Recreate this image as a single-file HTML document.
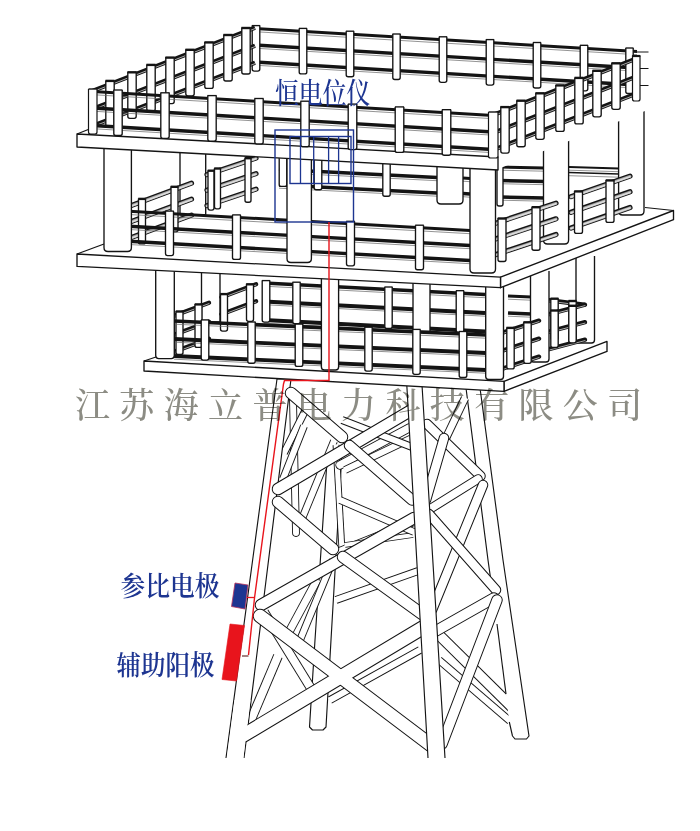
<!DOCTYPE html>
<html lang="zh"><head><meta charset="utf-8"><title>恒电位仪</title>
<style>html,body{margin:0;padding:0;background:#fff}svg{display:block}
text{font-family:"Liberation Serif","Noto Serif CJK SC",serif}</style></head>
<body><svg width="700" height="831" viewBox="0 0 700 831">
<rect width="700" height="831" fill="#fff"/>
<path d="M327.6 452L315 640L309.5 727L312.5 730L323 730L326 727L331 640L342 452" fill="#fff" stroke="#141414" stroke-width="1.15" stroke-linejoin="round"/>
<path d="M293 400L296 533" stroke="#141414" stroke-width="7.8" stroke-linecap="round" fill="none"/>
<path d="M293 400L296 533" stroke="#fff" stroke-width="6" stroke-linecap="round" fill="none"/>
<path d="M306 409L284 453" stroke="#141414" stroke-width="7.8" stroke-linecap="butt" fill="none"/>
<path d="M306.3 408.5L283.7 453.5" stroke="#fff" stroke-width="6" stroke-linecap="butt" fill="none"/>
<path d="M304 426L283 479" stroke="#141414" stroke-width="7.8" stroke-linecap="butt" fill="none"/>
<path d="M304.2 425.4L282.8 479.6" stroke="#fff" stroke-width="6" stroke-linecap="butt" fill="none"/>
<path d="M334 441L299 526" stroke="#141414" stroke-width="7.8" stroke-linecap="butt" fill="none"/>
<path d="M334.2 440.4L298.8 526.6" stroke="#fff" stroke-width="6" stroke-linecap="butt" fill="none"/>
<path d="M336 445L342 550" stroke="#141414" stroke-width="6.8" stroke-linecap="butt" fill="none"/>
<path d="M336 444.4L342 550.6" stroke="#fff" stroke-width="5" stroke-linecap="butt" fill="none"/>
<path d="M340 465L409 428" stroke="#141414" stroke-width="9.3" stroke-linecap="round" fill="none"/>
<path d="M340 465L409 428" stroke="#fff" stroke-width="7.5" stroke-linecap="round" fill="none"/>
<path d="M317 580L282 645" stroke="#141414" stroke-width="8.8" stroke-linecap="butt" fill="none"/>
<path d="M317.3 579.5L281.7 645.5" stroke="#fff" stroke-width="7" stroke-linecap="butt" fill="none"/>
<path d="M264 612L312 690" stroke="#141414" stroke-width="9.8" stroke-linecap="butt" fill="none"/>
<path d="M263.7 611.5L312.3 690.5" stroke="#fff" stroke-width="8" stroke-linecap="butt" fill="none"/>
<path d="M278 656L250 722" stroke="#141414" stroke-width="9.8" stroke-linecap="butt" fill="none"/>
<path d="M278.2 655.4L249.8 722.6" stroke="#fff" stroke-width="8" stroke-linecap="butt" fill="none"/>
<path d="M333 560L300 640" stroke="#141414" stroke-width="7.8" stroke-linecap="butt" fill="none"/>
<path d="M333.2 559.4L299.8 640.6" stroke="#fff" stroke-width="6" stroke-linecap="butt" fill="none"/>
<path d="M338 552L413 522" stroke="#141414" stroke-width="8.8" stroke-linecap="butt" fill="none"/>
<path d="M337.4 552.2L413.6 521.8" stroke="#fff" stroke-width="7" stroke-linecap="butt" fill="none"/>
<path d="M345 545L413 535" stroke="#141414" stroke-width="5.8" stroke-linecap="butt" fill="none"/>
<path d="M344.4 545.1L413.6 534.9" stroke="#fff" stroke-width="4" stroke-linecap="butt" fill="none"/>
<path d="M330 700L420 650" stroke="#141414" stroke-width="7.8" stroke-linecap="butt" fill="none"/>
<path d="M329.5 700.3L420.5 649.7" stroke="#fff" stroke-width="6" stroke-linecap="butt" fill="none"/>
<path d="M345 470L412 438" stroke="#141414" stroke-width="7.8" stroke-linecap="butt" fill="none"/>
<path d="M344.5 470.3L412.5 437.7" stroke="#fff" stroke-width="6" stroke-linecap="butt" fill="none"/>
<path d="M342 420L412 447" stroke="#141414" stroke-width="7.8" stroke-linecap="butt" fill="none"/>
<path d="M341.4 419.8L412.6 447.2" stroke="#fff" stroke-width="6" stroke-linecap="butt" fill="none"/>
<path d="M340 500L414 532" stroke="#141414" stroke-width="7.8" stroke-linecap="butt" fill="none"/>
<path d="M339.4 499.8L414.6 532.2" stroke="#fff" stroke-width="6" stroke-linecap="butt" fill="none"/>
<path d="M336 600L418 571" stroke="#141414" stroke-width="7.8" stroke-linecap="butt" fill="none"/>
<path d="M335.4 600.2L418.6 570.8" stroke="#fff" stroke-width="6" stroke-linecap="butt" fill="none"/>
<path d="M439 660L510 721" stroke="#141414" stroke-width="8" stroke-linecap="butt" fill="none"/>
<path d="M438.5 659.6L510.5 721.4" stroke="#fff" stroke-width="6" stroke-linecap="butt" fill="none"/>
<path d="M434 630L518 713" stroke="#141414" stroke-width="11.5" stroke-linecap="butt" fill="none"/>
<path d="M433.6 629.6L518.4 713.4" stroke="#fff" stroke-width="9.5" stroke-linecap="butt" fill="none"/>
<path d="M466 388L480 388L503 560L529 736L526.5 739L515 739L512.5 736L509 720L506 694L488 560Z" fill="#fff" stroke="none" stroke-width="1" stroke-linejoin="round"/>
<path d="M466 388L488 560L492.5 592" fill="none" stroke="#141414" stroke-width="1.15" stroke-linejoin="round"/>
<path d="M497 624L506 694" fill="none" stroke="#141414" stroke-width="1.15" stroke-linejoin="round"/>
<path d="M480 388L503 560L529 736L526.5 739L515 739L512.5 736L509.3 722" fill="none" stroke="#141414" stroke-width="1.15" stroke-linejoin="round"/>
<path d="M465 398L446 438" stroke="#141414" stroke-width="8.5" stroke-linecap="butt" fill="none"/>
<path d="M465.3 397.5L445.7 438.5" stroke="#fff" stroke-width="6.5" stroke-linecap="butt" fill="none"/>
<path d="M427 424L480.5 476" stroke="#141414" stroke-width="10.5" stroke-linecap="round" fill="none"/>
<path d="M427 424L480.5 476" stroke="#fff" stroke-width="8.5" stroke-linecap="round" fill="none"/>
<path d="M444 438L426 500" stroke="#141414" stroke-width="10.5" stroke-linecap="round" fill="none"/>
<path d="M444 438L426 500" stroke="#fff" stroke-width="8.5" stroke-linecap="round" fill="none"/>
<path d="M430 509L478 479" stroke="#141414" stroke-width="9.5" stroke-linecap="round" fill="none"/>
<path d="M430 509L478 479" stroke="#fff" stroke-width="7.5" stroke-linecap="round" fill="none"/>
<path d="M483 485L432 610" stroke="#141414" stroke-width="10.5" stroke-linecap="round" fill="none"/>
<path d="M483 485L432 610" stroke="#fff" stroke-width="8.5" stroke-linecap="round" fill="none"/>
<path d="M429 514L496 590" stroke="#141414" stroke-width="10.5" stroke-linecap="round" fill="none"/>
<path d="M429 514L496 590" stroke="#fff" stroke-width="8.5" stroke-linecap="round" fill="none"/>
<path d="M494 598L434 632" stroke="#141414" stroke-width="11.5" stroke-linecap="round" fill="none"/>
<path d="M494 598L434 632" stroke="#fff" stroke-width="9.5" stroke-linecap="round" fill="none"/>
<path d="M497 600L442 744" stroke="#141414" stroke-width="11.5" stroke-linecap="round" fill="none"/>
<path d="M497 600L442 744" stroke="#fff" stroke-width="9.5" stroke-linecap="round" fill="none"/>
<path d="M226 758L277 379L291 379L244 758" fill="#fff" stroke="#141414" stroke-width="1.15" stroke-linejoin="round"/>
<path d="M278 489L410 411" stroke="#141414" stroke-width="12.5" stroke-linecap="round" fill="none"/>
<path d="M278 489L410 411" stroke="#fff" stroke-width="10.5" stroke-linecap="round" fill="none"/>
<path d="M291 393L342 437" stroke="#141414" stroke-width="12.5" stroke-linecap="round" fill="none"/>
<path d="M291 393L342 437" stroke="#fff" stroke-width="10.5" stroke-linecap="round" fill="none"/>
<path d="M349.5 445.5L412 500" stroke="#141414" stroke-width="11.5" stroke-linecap="round" fill="none"/>
<path d="M349.5 445.5L412 500" stroke="#fff" stroke-width="9.5" stroke-linecap="round" fill="none"/>
<path d="M261 605L414 518" stroke="#141414" stroke-width="12.5" stroke-linecap="round" fill="none"/>
<path d="M261 605L414 518" stroke="#fff" stroke-width="10.5" stroke-linecap="round" fill="none"/>
<path d="M278 502L333 549" stroke="#141414" stroke-width="12.5" stroke-linecap="round" fill="none"/>
<path d="M278 502L333 549" stroke="#fff" stroke-width="10.5" stroke-linecap="round" fill="none"/>
<path d="M343 557L422 614" stroke="#141414" stroke-width="12.5" stroke-linecap="round" fill="none"/>
<path d="M343 557L422 614" stroke="#fff" stroke-width="10.5" stroke-linecap="round" fill="none"/>
<path d="M260 616L432 746" stroke="#141414" stroke-width="14.5" stroke-linecap="round" fill="none"/>
<path d="M243 735.5L424 627" stroke="#141414" stroke-width="15.0" stroke-linecap="round" fill="none"/>
<path d="M260 616L432 746" stroke="#fff" stroke-width="12.5" stroke-linecap="round" fill="none"/>
<path d="M243 735.5L424 627" stroke="#fff" stroke-width="13" stroke-linecap="round" fill="none"/>
<path d="M234.5 700L250.5 700L243.3 759L226.7 759Z" fill="#fff" stroke="none" stroke-width="1" stroke-linejoin="round"/>
<path d="M428 758L406.8 385L422 385L445 758" fill="#fff" stroke="#141414" stroke-width="1.15" stroke-linejoin="round"/>
<path d="M144 361L156 357" stroke="#141414" stroke-width="1.3" stroke-linecap="butt" fill="none"/>
<path d="M504 381.4L607 341.4L607 351.4L504 391.4Z" fill="#fff" stroke="#141414" stroke-width="1.35" stroke-linejoin="round"/>
<path d="M144 361L504 381.4L504 391.4L144 371Z" fill="#fff" stroke="#141414" stroke-width="1.35" stroke-linejoin="round"/>
<path d="M576 256L576 340Q576 343 579 343L591.5 343Q594.5 343 594.5 340L594.5 256" fill="#fff" stroke="#141414" stroke-width="1.35"/>
<path d="M264 283L485 294.5" stroke="#141414" stroke-width="3.6" stroke-linecap="butt" fill="none"/>
<path d="M264 286.2L485 297.7" stroke="#666" stroke-width="0.7" stroke-linecap="butt" fill="none"/>
<path d="M264 301.5L485 313" stroke="#141414" stroke-width="3.9" stroke-linecap="butt" fill="none"/>
<path d="M264 304.7L485 316.2" stroke="#666" stroke-width="0.7" stroke-linecap="butt" fill="none"/>
<path d="M264 320L485 331.5" stroke="#141414" stroke-width="3.9" stroke-linecap="butt" fill="none"/>
<path d="M264 323.2L485 334.7" stroke="#666" stroke-width="0.7" stroke-linecap="butt" fill="none"/>
<path d="M262.2 280.6L262.2 320.1Q262.2 322.1 264.2 322.1L267.8 322.1Q269.8 322.1 269.8 320.1L269.8 280.6" fill="#fff" stroke="#141414" stroke-width="1.35"/>
<path d="M261.9 280.6L270.1 280.6" stroke="#141414" stroke-width="1.35" stroke-linecap="butt" fill="none"/>
<path d="M292.8 282.2L292.8 321.7Q292.8 323.7 294.8 323.7L298.2 323.7Q300.2 323.7 300.2 321.7L300.2 282.2" fill="#fff" stroke="#141414" stroke-width="1.35"/>
<path d="M292.4 282.2L300.6 282.2" stroke="#141414" stroke-width="1.35" stroke-linecap="butt" fill="none"/>
<path d="M384.8 287L384.8 326.5Q384.8 328.5 386.8 328.5L390.2 328.5Q392.2 328.5 392.2 326.5L392.2 287" fill="#fff" stroke="#141414" stroke-width="1.35"/>
<path d="M384.4 287L392.6 287" stroke="#141414" stroke-width="1.35" stroke-linecap="butt" fill="none"/>
<path d="M456.2 290.7L456.2 330.2Q456.2 332.2 458.2 332.2L461.8 332.2Q463.8 332.2 463.8 330.2L463.8 290.7" fill="#fff" stroke="#141414" stroke-width="1.35"/>
<path d="M455.9 290.7L464.1 290.7" stroke="#141414" stroke-width="1.35" stroke-linecap="butt" fill="none"/>
<path d="M508 296L531 297" stroke="#141414" stroke-width="3.0" stroke-linecap="butt" fill="none"/>
<path d="M508 299.2L531 300.2" stroke="#666" stroke-width="0.7" stroke-linecap="butt" fill="none"/>
<path d="M508 313L531 314" stroke="#141414" stroke-width="3.4" stroke-linecap="butt" fill="none"/>
<path d="M508 316.2L531 317.2" stroke="#666" stroke-width="0.7" stroke-linecap="butt" fill="none"/>
<path d="M201.5 268L201.5 321.5Q201.5 322 202 322L219.5 322Q220 322 220 321.5L220 268" fill="#fff" stroke="#141414" stroke-width="1.35"/>
<path d="M413 280L413 331Q413 331.5 413.5 331.5L429.5 331.5Q430 331.5 430 331L430 280" fill="#fff" stroke="#141414" stroke-width="1.35"/>
<path d="M221.5 297.2L256 284.2" stroke="#141414" stroke-width="4.4" stroke-linecap="round" fill="none"/>
<path d="M221.5 298.1L256 285.1" stroke="#bbb" stroke-width="0.9" stroke-linecap="round" fill="none"/>
<path d="M221.5 314.2L256 301.2" stroke="#141414" stroke-width="4.4" stroke-linecap="round" fill="none"/>
<path d="M221.5 315.1L256 302.1" stroke="#bbb" stroke-width="0.9" stroke-linecap="round" fill="none"/>
<path d="M220.5 293.6L220.5 329.1Q220.5 331.1 222.5 331.1L225.5 331.1Q227.5 331.1 227.5 329.1L227.5 293.6" fill="#fff" stroke="#141414" stroke-width="1.35"/>
<path d="M220.2 294.1L227.8 294.1" stroke="#141414" stroke-width="2.4" stroke-linecap="butt" fill="none"/>
<path d="M246.5 283.8L246.5 319.3Q246.5 321.3 248.5 321.3L251.5 321.3Q253.5 321.3 253.5 319.3L253.5 283.8" fill="#fff" stroke="#141414" stroke-width="1.35"/>
<path d="M246.2 284.3L253.8 284.3" stroke="#141414" stroke-width="2.4" stroke-linecap="butt" fill="none"/>
<path d="M174 315.7L209 302.7" stroke="#141414" stroke-width="4.4" stroke-linecap="round" fill="none"/>
<path d="M174 316.6L209 303.6" stroke="#bbb" stroke-width="0.9" stroke-linecap="round" fill="none"/>
<path d="M174 334.7L209 321.7" stroke="#141414" stroke-width="4.4" stroke-linecap="round" fill="none"/>
<path d="M174 335.6L209 322.6" stroke="#bbb" stroke-width="0.9" stroke-linecap="round" fill="none"/>
<path d="M174 351.7L209 338.7" stroke="#141414" stroke-width="4.4" stroke-linecap="round" fill="none"/>
<path d="M174 352.6L209 339.6" stroke="#bbb" stroke-width="0.9" stroke-linecap="round" fill="none"/>
<path d="M176 311L176 352.5Q176 354.5 178 354.5L181 354.5Q183 354.5 183 352.5L183 311" fill="#fff" stroke="#141414" stroke-width="1.35"/>
<path d="M175.7 311.5L183.3 311.5" stroke="#141414" stroke-width="2.4" stroke-linecap="butt" fill="none"/>
<path d="M195 303.9L195 345.4Q195 347.4 197 347.4L200 347.4Q202 347.4 202 345.4L202 303.9" fill="#fff" stroke="#141414" stroke-width="1.35"/>
<path d="M194.7 304.4L202.3 304.4" stroke="#141414" stroke-width="2.4" stroke-linecap="butt" fill="none"/>
<path d="M549 300.2L584 304.7" stroke="#141414" stroke-width="4.4" stroke-linecap="round" fill="none"/>
<path d="M549 301.1L584 305.6" stroke="#bbb" stroke-width="0.9" stroke-linecap="round" fill="none"/>
<path d="M550.8 298.2L550.8 337.7Q550.8 339.7 552.8 339.7L556.2 339.7Q558.2 339.7 558.2 337.7L558.2 298.2" fill="#fff" stroke="#141414" stroke-width="1.35"/>
<path d="M550.5 298.7L558.5 298.7" stroke="#141414" stroke-width="2.4" stroke-linecap="butt" fill="none"/>
<path d="M568.8 300.5L568.8 340Q568.8 342 570.8 342L574.2 342Q576.2 342 576.2 340L576.2 300.5" fill="#fff" stroke="#141414" stroke-width="1.35"/>
<path d="M568.5 301L576.5 301" stroke="#141414" stroke-width="2.4" stroke-linecap="butt" fill="none"/>
<path d="M549 314.2L585 304.7" stroke="#141414" stroke-width="4.4" stroke-linecap="round" fill="none"/>
<path d="M549 315.1L585 305.6" stroke="#bbb" stroke-width="0.9" stroke-linecap="round" fill="none"/>
<path d="M549 331.7L585 322.2" stroke="#141414" stroke-width="4.4" stroke-linecap="round" fill="none"/>
<path d="M549 332.6L585 323.1" stroke="#bbb" stroke-width="0.9" stroke-linecap="round" fill="none"/>
<path d="M549 349.2L585 339.7" stroke="#141414" stroke-width="4.4" stroke-linecap="round" fill="none"/>
<path d="M549 350.1L585 340.6" stroke="#bbb" stroke-width="0.9" stroke-linecap="round" fill="none"/>
<path d="M550.8 310L550.8 345.5Q550.8 347.5 552.8 347.5L556.2 347.5Q558.2 347.5 558.2 345.5L558.2 310" fill="#fff" stroke="#141414" stroke-width="1.35"/>
<path d="M550.5 310.5L558.5 310.5" stroke="#141414" stroke-width="2.4" stroke-linecap="butt" fill="none"/>
<path d="M568.8 305.3L568.8 340.8Q568.8 342.8 570.8 342.8L574.2 342.8Q576.2 342.8 576.2 340.8L576.2 305.3" fill="#fff" stroke="#141414" stroke-width="1.35"/>
<path d="M568.5 305.8L576.5 305.8" stroke="#141414" stroke-width="2.4" stroke-linecap="butt" fill="none"/>
<path d="M530.5 271L530.5 359Q530.5 362 533.5 362L546 362Q549 362 549 359L549 271" fill="#fff" stroke="#141414" stroke-width="1.35"/>
<path d="M504 332.2L539 320.7" stroke="#141414" stroke-width="4.4" stroke-linecap="round" fill="none"/>
<path d="M504 333.1L539 321.6" stroke="#bbb" stroke-width="0.9" stroke-linecap="round" fill="none"/>
<path d="M504 350.2L539 338.7" stroke="#141414" stroke-width="4.4" stroke-linecap="round" fill="none"/>
<path d="M504 351.1L539 339.6" stroke="#bbb" stroke-width="0.9" stroke-linecap="round" fill="none"/>
<path d="M504 368.2L539 356.7" stroke="#141414" stroke-width="4.4" stroke-linecap="round" fill="none"/>
<path d="M504 369.1L539 357.6" stroke="#bbb" stroke-width="0.9" stroke-linecap="round" fill="none"/>
<path d="M506.8 327.4L506.8 366.9Q506.8 368.9 508.8 368.9L512.2 368.9Q514.2 368.9 514.2 366.9L514.2 327.4" fill="#fff" stroke="#141414" stroke-width="1.35"/>
<path d="M506.4 327.9L514.5 327.9" stroke="#141414" stroke-width="2.4" stroke-linecap="butt" fill="none"/>
<path d="M523.8 321.8L523.8 361.3Q523.8 363.3 525.8 363.3L529.2 363.3Q531.2 363.3 531.2 361.3L531.2 321.8" fill="#fff" stroke="#141414" stroke-width="1.35"/>
<path d="M523.5 322.3L531.5 322.3" stroke="#141414" stroke-width="2.4" stroke-linecap="butt" fill="none"/>
<path d="M174 321L486 335" stroke="#141414" stroke-width="3.6" stroke-linecap="butt" fill="none"/>
<path d="M174 324.2L486 338.2" stroke="#666" stroke-width="0.7" stroke-linecap="butt" fill="none"/>
<path d="M174 339L486 353" stroke="#141414" stroke-width="3.9" stroke-linecap="butt" fill="none"/>
<path d="M174 342.2L486 356.2" stroke="#666" stroke-width="0.7" stroke-linecap="butt" fill="none"/>
<path d="M174 356L486 370" stroke="#141414" stroke-width="3.9" stroke-linecap="butt" fill="none"/>
<path d="M174 359.2L486 373.2" stroke="#666" stroke-width="0.7" stroke-linecap="butt" fill="none"/>
<path d="M201.2 319.9L201.2 358.1Q201.2 360.1 203.2 360.1L206.8 360.1Q208.8 360.1 208.8 358.1L208.8 319.9" fill="#fff" stroke="#141414" stroke-width="1.35"/>
<path d="M200.9 319.9L209.1 319.9" stroke="#141414" stroke-width="1.35" stroke-linecap="butt" fill="none"/>
<path d="M247.8 322L247.8 361.2Q247.8 363.2 249.8 363.2L253.2 363.2Q255.2 363.2 255.2 361.2L255.2 322" fill="#fff" stroke="#141414" stroke-width="1.35"/>
<path d="M247.4 322L255.6 322" stroke="#141414" stroke-width="1.35" stroke-linecap="butt" fill="none"/>
<path d="M295.2 324.1L295.2 364.4Q295.2 366.4 297.2 366.4L300.8 366.4Q302.8 366.4 302.8 364.4L302.8 324.1" fill="#fff" stroke="#141414" stroke-width="1.35"/>
<path d="M294.9 324.1L303.1 324.1" stroke="#141414" stroke-width="1.35" stroke-linecap="butt" fill="none"/>
<path d="M364.8 327.2L364.8 369.1Q364.8 371.1 366.8 371.1L370.2 371.1Q372.2 371.1 372.2 369.1L372.2 327.2" fill="#fff" stroke="#141414" stroke-width="1.35"/>
<path d="M364.4 327.2L372.6 327.2" stroke="#141414" stroke-width="1.35" stroke-linecap="butt" fill="none"/>
<path d="M412.8 329.4L412.8 372.3Q412.8 374.3 414.8 374.3L418.2 374.3Q420.2 374.3 420.2 372.3L420.2 329.4" fill="#fff" stroke="#141414" stroke-width="1.35"/>
<path d="M412.4 329.4L420.6 329.4" stroke="#141414" stroke-width="1.35" stroke-linecap="butt" fill="none"/>
<path d="M459.2 331.5L459.2 375.5Q459.2 377.5 461.2 377.5L464.8 377.5Q466.8 377.5 466.8 375.5L466.8 331.5" fill="#fff" stroke="#141414" stroke-width="1.35"/>
<path d="M458.9 331.5L467.1 331.5" stroke="#141414" stroke-width="1.35" stroke-linecap="butt" fill="none"/>
<path d="M155.7 262L155.7 355.6Q155.7 358.6 158.7 358.6L171.3 358.6Q174.3 358.6 174.3 355.6L174.3 262" fill="#fff" stroke="#141414" stroke-width="1.35"/>
<path d="M321.4 275L321.4 367Q321.4 370 324.4 370L335.6 370Q338.6 370 338.6 367L338.6 275" fill="#fff" stroke="#141414" stroke-width="1.35"/>
<path d="M485.7 285L485.7 376.5Q485.7 379.5 488.7 379.5L500.5 379.5Q503.5 379.5 503.5 376.5L503.5 285" fill="#fff" stroke="#141414" stroke-width="1.35"/>
<path d="M77 254L104 244" stroke="#141414" stroke-width="1.3" stroke-linecap="butt" fill="none"/>
<path d="M500.5 277.2L673.5 210.5L673.5 219.7L500.5 287.7Z" fill="#fff" stroke="#141414" stroke-width="1.35" stroke-linejoin="round"/>
<path d="M77 254L500.5 277.2L500.5 287.7L77 266.4Z" fill="#fff" stroke="#141414" stroke-width="1.35" stroke-linejoin="round"/>
<path d="M673.5 210.5L645 207.5" stroke="#141414" stroke-width="1.1" stroke-linecap="butt" fill="none"/>
<path d="M279 154L437 162" stroke="#141414" stroke-width="3.0" stroke-linecap="butt" fill="none"/>
<path d="M279 157.2L437 165.2" stroke="#666" stroke-width="0.7" stroke-linecap="butt" fill="none"/>
<path d="M279 169.5L437 177.5" stroke="#141414" stroke-width="3.4" stroke-linecap="butt" fill="none"/>
<path d="M279 172.7L437 180.7" stroke="#666" stroke-width="0.7" stroke-linecap="butt" fill="none"/>
<path d="M279 185L437 193" stroke="#141414" stroke-width="3.4" stroke-linecap="butt" fill="none"/>
<path d="M279 188.2L437 196.2" stroke="#666" stroke-width="0.7" stroke-linecap="butt" fill="none"/>
<path d="M279.2 152.7L279.2 184.4Q279.2 186.4 281.2 186.4L284.8 186.4Q286.8 186.4 286.8 184.4L286.8 152.7" fill="#fff" stroke="#141414" stroke-width="1.35"/>
<path d="M278.9 152.7L287.1 152.7" stroke="#141414" stroke-width="1.35" stroke-linecap="butt" fill="none"/>
<path d="M314.2 154.5L314.2 187.7Q314.2 189.7 316.2 189.7L319.8 189.7Q321.8 189.7 321.8 187.7L321.8 154.5" fill="#fff" stroke="#141414" stroke-width="1.35"/>
<path d="M313.9 154.5L322.1 154.5" stroke="#141414" stroke-width="1.35" stroke-linecap="butt" fill="none"/>
<path d="M382.8 157.9L382.8 194.2Q382.8 196.2 384.8 196.2L388.2 196.2Q390.2 196.2 390.2 194.2L390.2 157.9" fill="#fff" stroke="#141414" stroke-width="1.35"/>
<path d="M382.4 157.9L390.6 157.9" stroke="#141414" stroke-width="1.35" stroke-linecap="butt" fill="none"/>
<path d="M463 178L470 178.5" stroke="#141414" stroke-width="3.0" stroke-linecap="butt" fill="none"/>
<path d="M463 181.2L470 181.7" stroke="#666" stroke-width="0.7" stroke-linecap="butt" fill="none"/>
<path d="M463 193.5L470 194" stroke="#141414" stroke-width="3.4" stroke-linecap="butt" fill="none"/>
<path d="M463 196.7L470 197.2" stroke="#666" stroke-width="0.7" stroke-linecap="butt" fill="none"/>
<path d="M500 167L544 168" stroke="#141414" stroke-width="3.0" stroke-linecap="butt" fill="none"/>
<path d="M500 170.2L544 171.2" stroke="#666" stroke-width="0.7" stroke-linecap="butt" fill="none"/>
<path d="M500 180.5L544 181.5" stroke="#141414" stroke-width="3.4" stroke-linecap="butt" fill="none"/>
<path d="M500 183.7L544 184.7" stroke="#666" stroke-width="0.7" stroke-linecap="butt" fill="none"/>
<path d="M500 197L544 198" stroke="#141414" stroke-width="3.4" stroke-linecap="butt" fill="none"/>
<path d="M500 200.2L544 201.2" stroke="#666" stroke-width="0.7" stroke-linecap="butt" fill="none"/>
<path d="M497 164.5L497 204Q497 206 499 206L501 206Q503 206 503 204L503 164.5" fill="#fff" stroke="#141414" stroke-width="1.35"/>
<path d="M496.7 164.5L503.3 164.5" stroke="#141414" stroke-width="1.35" stroke-linecap="butt" fill="none"/>
<path d="M569 167L619 168.5" stroke="#141414" stroke-width="1.8" stroke-linecap="butt" fill="none"/>
<path d="M569 170.2L619 171.7" stroke="#666" stroke-width="0.7" stroke-linecap="butt" fill="none"/>
<path d="M569 172.5L619 174" stroke="#141414" stroke-width="1.3" stroke-linecap="butt" fill="none"/>
<path d="M569 175.7L619 177.2" stroke="#666" stroke-width="0.7" stroke-linecap="butt" fill="none"/>
<path d="M618.6 105L618.6 211Q618.6 215 622.6 215L640 215Q644 215 644 211L644 105" fill="#fff" stroke="#141414" stroke-width="1.35"/>
<path d="M180 150L180 214Q180 215 181 215L204.7 215Q205.7 215 205.7 214L205.7 150" fill="#fff" stroke="#141414" stroke-width="1.35"/>
<path d="M437 160L437 200Q437 204 441 204L459 204Q463 204 463 200L463 160" fill="#fff" stroke="#141414" stroke-width="1.35"/>
<path d="M207 174.6L256 158.1" stroke="#141414" stroke-width="5.2" stroke-linecap="round" fill="none"/>
<path d="M207 174.9L256 158.4" stroke="#a0a0a0" stroke-width="2.9000000000000004" stroke-linecap="round" fill="none"/>
<path d="M207 175.2L256 158.7" stroke="#dcdcdc" stroke-width="1.6" stroke-linecap="round" fill="none"/>
<path d="M207 190.1L256 173.6" stroke="#141414" stroke-width="5.2" stroke-linecap="round" fill="none"/>
<path d="M207 190.4L256 173.9" stroke="#a0a0a0" stroke-width="2.9000000000000004" stroke-linecap="round" fill="none"/>
<path d="M207 190.7L256 174.2" stroke="#dcdcdc" stroke-width="1.6" stroke-linecap="round" fill="none"/>
<path d="M207 205.6L256 189.1" stroke="#141414" stroke-width="5.2" stroke-linecap="round" fill="none"/>
<path d="M207 205.9L256 189.4" stroke="#a0a0a0" stroke-width="2.9000000000000004" stroke-linecap="round" fill="none"/>
<path d="M207 206.2L256 189.7" stroke="#dcdcdc" stroke-width="1.6" stroke-linecap="round" fill="none"/>
<path d="M208 170.2L208 208.1Q208 210.1 210 210.1L212 210.1Q214 210.1 214 208.1L214 170.2" fill="#fff" stroke="#141414" stroke-width="1.35"/>
<path d="M207.7 170.7L214.3 170.7" stroke="#141414" stroke-width="2.4" stroke-linecap="butt" fill="none"/>
<path d="M214.5 168L214.5 206.8Q214.5 208.8 216.5 208.8L218.5 208.8Q220.5 208.8 220.5 206.8L220.5 168" fill="#fff" stroke="#141414" stroke-width="1.35"/>
<path d="M214.2 168.5L220.8 168.5" stroke="#141414" stroke-width="2.4" stroke-linecap="butt" fill="none"/>
<path d="M245 157.7L245 200.2Q245 202.2 247 202.2L249 202.2Q251 202.2 251 200.2L251 157.7" fill="#fff" stroke="#141414" stroke-width="1.35"/>
<path d="M244.7 158.2L251.3 158.2" stroke="#141414" stroke-width="2.4" stroke-linecap="butt" fill="none"/>
<path d="M131 205.6L191.5 183.1" stroke="#141414" stroke-width="5.2" stroke-linecap="round" fill="none"/>
<path d="M131 205.9L191.5 183.4" stroke="#a0a0a0" stroke-width="2.9000000000000004" stroke-linecap="round" fill="none"/>
<path d="M131 206.2L191.5 183.7" stroke="#dcdcdc" stroke-width="1.6" stroke-linecap="round" fill="none"/>
<path d="M131 221.6L191.5 199.1" stroke="#141414" stroke-width="5.2" stroke-linecap="round" fill="none"/>
<path d="M131 221.9L191.5 199.4" stroke="#a0a0a0" stroke-width="2.9000000000000004" stroke-linecap="round" fill="none"/>
<path d="M131 222.2L191.5 199.7" stroke="#dcdcdc" stroke-width="1.6" stroke-linecap="round" fill="none"/>
<path d="M131 237.6L191.5 215.1" stroke="#141414" stroke-width="5.2" stroke-linecap="round" fill="none"/>
<path d="M131 237.9L191.5 215.4" stroke="#a0a0a0" stroke-width="2.9000000000000004" stroke-linecap="round" fill="none"/>
<path d="M131 238.2L191.5 215.7" stroke="#dcdcdc" stroke-width="1.6" stroke-linecap="round" fill="none"/>
<path d="M138.5 198.4L138.5 241.9Q138.5 243.9 140.5 243.9L143.5 243.9Q145.5 243.9 145.5 241.9L145.5 198.4" fill="#fff" stroke="#141414" stroke-width="1.35"/>
<path d="M138.2 198.9L145.8 198.9" stroke="#141414" stroke-width="2.4" stroke-linecap="butt" fill="none"/>
<path d="M171 186.3L171 229.8Q171 231.8 173 231.8L176 231.8Q178 231.8 178 229.8L178 186.3" fill="#fff" stroke="#141414" stroke-width="1.35"/>
<path d="M170.7 186.8L178.3 186.8" stroke="#141414" stroke-width="2.4" stroke-linecap="butt" fill="none"/>
<path d="M571 196.6L630 176.1" stroke="#141414" stroke-width="5.2" stroke-linecap="round" fill="none"/>
<path d="M571 196.9L630 176.4" stroke="#a0a0a0" stroke-width="2.9000000000000004" stroke-linecap="round" fill="none"/>
<path d="M571 197.2L630 176.7" stroke="#dcdcdc" stroke-width="1.6" stroke-linecap="round" fill="none"/>
<path d="M571 212.3L630 191.8" stroke="#141414" stroke-width="5.2" stroke-linecap="round" fill="none"/>
<path d="M571 212.6L630 192.1" stroke="#a0a0a0" stroke-width="2.9000000000000004" stroke-linecap="round" fill="none"/>
<path d="M571 212.9L630 192.4" stroke="#dcdcdc" stroke-width="1.6" stroke-linecap="round" fill="none"/>
<path d="M571 228L630 207.5" stroke="#141414" stroke-width="5.2" stroke-linecap="round" fill="none"/>
<path d="M571 228.3L630 207.8" stroke="#a0a0a0" stroke-width="2.9000000000000004" stroke-linecap="round" fill="none"/>
<path d="M571 228.6L630 208.1" stroke="#dcdcdc" stroke-width="1.6" stroke-linecap="round" fill="none"/>
<path d="M574.5 190.9L574.5 231.4Q574.5 233.4 576.5 233.4L580.5 233.4Q582.5 233.4 582.5 231.4L582.5 190.9" fill="#fff" stroke="#141414" stroke-width="1.35"/>
<path d="M574.2 191.4L582.8 191.4" stroke="#141414" stroke-width="2.4" stroke-linecap="butt" fill="none"/>
<path d="M606 179.9L606 220.4Q606 222.4 608 222.4L612 222.4Q614 222.4 614 220.4L614 179.9" fill="#fff" stroke="#141414" stroke-width="1.35"/>
<path d="M605.7 180.4L614.3 180.4" stroke="#141414" stroke-width="2.4" stroke-linecap="butt" fill="none"/>
<path d="M543.5 125L543.5 240Q543.5 244 547.5 244L564.6 244Q568.6 244 568.6 240L568.6 125" fill="#fff" stroke="#141414" stroke-width="1.35"/>
<path d="M496 223.1L556 203.1" stroke="#141414" stroke-width="5.2" stroke-linecap="round" fill="none"/>
<path d="M496 223.4L556 203.4" stroke="#a0a0a0" stroke-width="2.9000000000000004" stroke-linecap="round" fill="none"/>
<path d="M496 223.7L556 203.7" stroke="#dcdcdc" stroke-width="1.6" stroke-linecap="round" fill="none"/>
<path d="M496 238.8L556 218.8" stroke="#141414" stroke-width="5.2" stroke-linecap="round" fill="none"/>
<path d="M496 239.1L556 219.1" stroke="#a0a0a0" stroke-width="2.9000000000000004" stroke-linecap="round" fill="none"/>
<path d="M496 239.4L556 219.4" stroke="#dcdcdc" stroke-width="1.6" stroke-linecap="round" fill="none"/>
<path d="M496 254.5L556 234.5" stroke="#141414" stroke-width="5.2" stroke-linecap="round" fill="none"/>
<path d="M496 254.8L556 234.8" stroke="#a0a0a0" stroke-width="2.9000000000000004" stroke-linecap="round" fill="none"/>
<path d="M496 255.1L556 235.1" stroke="#dcdcdc" stroke-width="1.6" stroke-linecap="round" fill="none"/>
<path d="M498 218L498 259.5Q498 261.5 500 261.5L504 261.5Q506 261.5 506 259.5L506 218" fill="#fff" stroke="#141414" stroke-width="1.35"/>
<path d="M497.7 218.5L506.3 218.5" stroke="#141414" stroke-width="2.4" stroke-linecap="butt" fill="none"/>
<path d="M532 206.7L532 248.2Q532 250.2 534 250.2L538 250.2Q540 250.2 540 248.2L540 206.7" fill="#fff" stroke="#141414" stroke-width="1.35"/>
<path d="M531.7 207.2L540.3 207.2" stroke="#141414" stroke-width="2.4" stroke-linecap="butt" fill="none"/>
<path d="M129 211.3L470 230.5" stroke="#141414" stroke-width="3.0" stroke-linecap="round" fill="none"/>
<path d="M129 214.5L470 233.7" stroke="#666" stroke-width="0.7" stroke-linecap="butt" fill="none"/>
<path d="M129 226.3L470 245.5" stroke="#141414" stroke-width="3.4" stroke-linecap="round" fill="none"/>
<path d="M129 229.5L470 248.7" stroke="#666" stroke-width="0.7" stroke-linecap="butt" fill="none"/>
<path d="M129 241.3L470 260.5" stroke="#141414" stroke-width="3.4" stroke-linecap="round" fill="none"/>
<path d="M129 244.5L470 263.7" stroke="#666" stroke-width="0.7" stroke-linecap="butt" fill="none"/>
<path d="M165.5 211.1L165.5 253.6Q165.5 255.6 167.5 255.6L171.5 255.6Q173.5 255.6 173.5 253.6L173.5 211.1" fill="#fff" stroke="#141414" stroke-width="1.35"/>
<path d="M165.2 211.1L173.8 211.1" stroke="#141414" stroke-width="1.35" stroke-linecap="butt" fill="none"/>
<path d="M232.5 214.9L232.5 257.4Q232.5 259.4 234.5 259.4L238.5 259.4Q240.5 259.4 240.5 257.4L240.5 214.9" fill="#fff" stroke="#141414" stroke-width="1.35"/>
<path d="M232.2 214.9L240.8 214.9" stroke="#141414" stroke-width="1.35" stroke-linecap="butt" fill="none"/>
<path d="M346.5 221.3L346.5 263.8Q346.5 265.8 348.5 265.8L352.5 265.8Q354.5 265.8 354.5 263.8L354.5 221.3" fill="#fff" stroke="#141414" stroke-width="1.35"/>
<path d="M346.2 221.3L354.8 221.3" stroke="#141414" stroke-width="1.35" stroke-linecap="butt" fill="none"/>
<path d="M415.5 225.2L415.5 267.7Q415.5 269.7 417.5 269.7L421.5 269.7Q423.5 269.7 423.5 267.7L423.5 225.2" fill="#fff" stroke="#141414" stroke-width="1.35"/>
<path d="M415.2 225.2L423.8 225.2" stroke="#141414" stroke-width="1.35" stroke-linecap="butt" fill="none"/>
<path d="M104 145L104 247.5Q104 251.5 108 251.5L127.4 251.5Q131.4 251.5 131.4 247.5L131.4 145" fill="#fff" stroke="#141414" stroke-width="1.35"/>
<path d="M287 150L287 258.5Q287 262.5 291 262.5L307.4 262.5Q311.4 262.5 311.4 258.5L311.4 150" fill="#fff" stroke="#141414" stroke-width="1.35"/>
<path d="M470 160L470 269Q470 273 474 273L491.5 273Q495.5 273 495.5 269L495.5 160" fill="#fff" stroke="#141414" stroke-width="1.35"/>
<path d="M93 134L255 71L645 99L645 111L498 169Z" fill="#fff" stroke="none" stroke-width="1" stroke-linejoin="round"/>
<path d="M77 134L92 128" stroke="#141414" stroke-width="1.3" stroke-linecap="butt" fill="none"/>
<path d="M77 134L498 157L498 170L77 147Z" fill="#fff" stroke="#141414" stroke-width="1.35" stroke-linejoin="round"/>
<path d="M255 28.5L637 51.5" stroke="#141414" stroke-width="3.0" stroke-linecap="butt" fill="none"/>
<path d="M255 31.7L637 54.7" stroke="#666" stroke-width="0.7" stroke-linecap="butt" fill="none"/>
<path d="M255 45L637 68" stroke="#141414" stroke-width="3.4" stroke-linecap="butt" fill="none"/>
<path d="M255 48.2L637 71.2" stroke="#666" stroke-width="0.7" stroke-linecap="butt" fill="none"/>
<path d="M255 62L637 85" stroke="#141414" stroke-width="3.4" stroke-linecap="butt" fill="none"/>
<path d="M255 65.2L637 88.2" stroke="#666" stroke-width="0.7" stroke-linecap="butt" fill="none"/>
<path d="M252.2 25.6L252.2 69.1Q252.2 71.1 254.2 71.1L257.8 71.1Q259.8 71.1 259.8 69.1L259.8 25.6" fill="#fff" stroke="#141414" stroke-width="1.35"/>
<path d="M251.9 25.6L260.1 25.6" stroke="#141414" stroke-width="1.35" stroke-linecap="butt" fill="none"/>
<path d="M299.2 28.4L299.2 71.9Q299.2 73.9 301.2 73.9L304.8 73.9Q306.8 73.9 306.8 71.9L306.8 28.4" fill="#fff" stroke="#141414" stroke-width="1.35"/>
<path d="M298.9 28.4L307.1 28.4" stroke="#141414" stroke-width="1.35" stroke-linecap="butt" fill="none"/>
<path d="M346.2 31.2L346.2 74.7Q346.2 76.7 348.2 76.7L351.8 76.7Q353.8 76.7 353.8 74.7L353.8 31.2" fill="#fff" stroke="#141414" stroke-width="1.35"/>
<path d="M345.9 31.2L354.1 31.2" stroke="#141414" stroke-width="1.35" stroke-linecap="butt" fill="none"/>
<path d="M392.8 34L392.8 77.5Q392.8 79.5 394.8 79.5L398.2 79.5Q400.2 79.5 400.2 77.5L400.2 34" fill="#fff" stroke="#141414" stroke-width="1.35"/>
<path d="M392.4 34L400.6 34" stroke="#141414" stroke-width="1.35" stroke-linecap="butt" fill="none"/>
<path d="M439.2 36.8L439.2 80.3Q439.2 82.3 441.2 82.3L444.8 82.3Q446.8 82.3 446.8 80.3L446.8 36.8" fill="#fff" stroke="#141414" stroke-width="1.35"/>
<path d="M438.9 36.8L447.1 36.8" stroke="#141414" stroke-width="1.35" stroke-linecap="butt" fill="none"/>
<path d="M486.2 39.6L486.2 83.1Q486.2 85.1 488.2 85.1L491.8 85.1Q493.8 85.1 493.8 83.1L493.8 39.6" fill="#fff" stroke="#141414" stroke-width="1.35"/>
<path d="M485.9 39.6L494.1 39.6" stroke="#141414" stroke-width="1.35" stroke-linecap="butt" fill="none"/>
<path d="M533.2 42.5L533.2 86Q533.2 88 535.2 88L538.8 88Q540.8 88 540.8 86L540.8 42.5" fill="#fff" stroke="#141414" stroke-width="1.35"/>
<path d="M533 42.5L541 42.5" stroke="#141414" stroke-width="1.35" stroke-linecap="butt" fill="none"/>
<path d="M580.2 45.3L580.2 88.8Q580.2 90.8 582.2 90.8L585.8 90.8Q587.8 90.8 587.8 88.8L587.8 45.3" fill="#fff" stroke="#141414" stroke-width="1.35"/>
<path d="M580 45.3L588 45.3" stroke="#141414" stroke-width="1.35" stroke-linecap="butt" fill="none"/>
<path d="M625.8 48L625.8 91.5Q625.8 93.5 627.8 93.5L631.2 93.5Q633.2 93.5 633.2 91.5L633.2 48" fill="#fff" stroke="#141414" stroke-width="1.35"/>
<path d="M625.5 48L633.5 48" stroke="#141414" stroke-width="1.35" stroke-linecap="butt" fill="none"/>
<path d="M93 90.7L255 27.7" stroke="#141414" stroke-width="4.4" stroke-linecap="butt" fill="none"/>
<path d="M93 91.6L255 28.6" stroke="#bbb" stroke-width="0.9" stroke-linecap="butt" fill="none"/>
<path d="M93 108.7L255 45.7" stroke="#141414" stroke-width="4.4" stroke-linecap="butt" fill="none"/>
<path d="M93 109.6L255 46.6" stroke="#bbb" stroke-width="0.9" stroke-linecap="butt" fill="none"/>
<path d="M93 125.7L255 62.7" stroke="#141414" stroke-width="4.4" stroke-linecap="butt" fill="none"/>
<path d="M93 126.6L255 63.6" stroke="#bbb" stroke-width="0.9" stroke-linecap="butt" fill="none"/>
<path d="M105.8 80.4L105.8 124.9Q105.8 126.9 107.8 126.9L112.2 126.9Q114.2 126.9 114.2 124.9L114.2 80.4" fill="#fff" stroke="#141414" stroke-width="1.35"/>
<path d="M105.5 80.9L114.5 80.9" stroke="#141414" stroke-width="2.4" stroke-linecap="butt" fill="none"/>
<path d="M127.8 71.8L127.8 116.3Q127.8 118.3 129.8 118.3L134.2 118.3Q136.2 118.3 136.2 116.3L136.2 71.8" fill="#fff" stroke="#141414" stroke-width="1.35"/>
<path d="M127.5 72.3L136.6 72.3" stroke="#141414" stroke-width="2.4" stroke-linecap="butt" fill="none"/>
<path d="M146.8 64.4L146.8 108.9Q146.8 110.9 148.8 110.9L153.2 110.9Q155.2 110.9 155.2 108.9L155.2 64.4" fill="#fff" stroke="#141414" stroke-width="1.35"/>
<path d="M146.4 64.9L155.6 64.9" stroke="#141414" stroke-width="2.4" stroke-linecap="butt" fill="none"/>
<path d="M165.8 57.1L165.8 101.6Q165.8 103.6 167.8 103.6L172.2 103.6Q174.2 103.6 174.2 101.6L174.2 57.1" fill="#fff" stroke="#141414" stroke-width="1.35"/>
<path d="M165.4 57.6L174.6 57.6" stroke="#141414" stroke-width="2.4" stroke-linecap="butt" fill="none"/>
<path d="M185.8 49.3L185.8 93.8Q185.8 95.8 187.8 95.8L192.2 95.8Q194.2 95.8 194.2 93.8L194.2 49.3" fill="#fff" stroke="#141414" stroke-width="1.35"/>
<path d="M185.4 49.8L194.6 49.8" stroke="#141414" stroke-width="2.4" stroke-linecap="butt" fill="none"/>
<path d="M204.8 41.9L204.8 86.4Q204.8 88.4 206.8 88.4L211.2 88.4Q213.2 88.4 213.2 86.4L213.2 41.9" fill="#fff" stroke="#141414" stroke-width="1.35"/>
<path d="M204.4 42.4L213.6 42.4" stroke="#141414" stroke-width="2.4" stroke-linecap="butt" fill="none"/>
<path d="M223.8 34.5L223.8 79Q223.8 81 225.8 81L230.2 81Q232.2 81 232.2 79L232.2 34.5" fill="#fff" stroke="#141414" stroke-width="1.35"/>
<path d="M223.4 35L232.6 35" stroke="#141414" stroke-width="2.4" stroke-linecap="butt" fill="none"/>
<path d="M241.8 27.5L241.8 72Q241.8 74 243.8 74L248.2 74Q250.2 74 250.2 72L250.2 27.5" fill="#fff" stroke="#141414" stroke-width="1.35"/>
<path d="M241.4 28L250.6 28" stroke="#141414" stroke-width="2.4" stroke-linecap="butt" fill="none"/>
<path d="M636 52L648.5 52" stroke="#141414" stroke-width="1" stroke-linecap="butt" fill="none"/>
<path d="M636 68.5L648.5 68.5" stroke="#141414" stroke-width="1" stroke-linecap="butt" fill="none"/>
<path d="M636 85.5L648.5 85.5" stroke="#141414" stroke-width="1" stroke-linecap="butt" fill="none"/>
<path d="M495 114.2L637 58.2" stroke="#141414" stroke-width="4.4" stroke-linecap="butt" fill="none"/>
<path d="M495 115.1L637 59.1" stroke="#bbb" stroke-width="0.9" stroke-linecap="butt" fill="none"/>
<path d="M495 132.2L637 76.2" stroke="#141414" stroke-width="4.4" stroke-linecap="butt" fill="none"/>
<path d="M495 133.1L637 77.1" stroke="#bbb" stroke-width="0.9" stroke-linecap="butt" fill="none"/>
<path d="M495 149.2L637 93.2" stroke="#141414" stroke-width="4.4" stroke-linecap="butt" fill="none"/>
<path d="M495 150.1L637 94.1" stroke="#bbb" stroke-width="0.9" stroke-linecap="butt" fill="none"/>
<path d="M500.8 106.6L500.8 151.1Q500.8 153.1 502.8 153.1L507.2 153.1Q509.2 153.1 509.2 151.1L509.2 106.6" fill="#fff" stroke="#141414" stroke-width="1.35"/>
<path d="M500.4 107.1L509.6 107.1" stroke="#141414" stroke-width="2.4" stroke-linecap="butt" fill="none"/>
<path d="M516.8 100.2L516.8 144.7Q516.8 146.7 518.8 146.7L523.2 146.7Q525.2 146.7 525.2 144.7L525.2 100.2" fill="#fff" stroke="#141414" stroke-width="1.35"/>
<path d="M516.5 100.7L525.5 100.7" stroke="#141414" stroke-width="2.4" stroke-linecap="butt" fill="none"/>
<path d="M535.8 92.8L535.8 137.3Q535.8 139.3 537.8 139.3L542.2 139.3Q544.2 139.3 544.2 137.3L544.2 92.8" fill="#fff" stroke="#141414" stroke-width="1.35"/>
<path d="M535.5 93.3L544.5 93.3" stroke="#141414" stroke-width="2.4" stroke-linecap="butt" fill="none"/>
<path d="M555.8 84.9L555.8 129.4Q555.8 131.4 557.8 131.4L562.2 131.4Q564.2 131.4 564.2 129.4L564.2 84.9" fill="#fff" stroke="#141414" stroke-width="1.35"/>
<path d="M555.5 85.4L564.5 85.4" stroke="#141414" stroke-width="2.4" stroke-linecap="butt" fill="none"/>
<path d="M574.8 77.4L574.8 121.9Q574.8 123.9 576.8 123.9L581.2 123.9Q583.2 123.9 583.2 121.9L583.2 77.4" fill="#fff" stroke="#141414" stroke-width="1.35"/>
<path d="M574.5 77.9L583.5 77.9" stroke="#141414" stroke-width="2.4" stroke-linecap="butt" fill="none"/>
<path d="M592.8 70.3L592.8 114.8Q592.8 116.8 594.8 116.8L599.2 116.8Q601.2 116.8 601.2 114.8L601.2 70.3" fill="#fff" stroke="#141414" stroke-width="1.35"/>
<path d="M592.5 70.8L601.5 70.8" stroke="#141414" stroke-width="2.4" stroke-linecap="butt" fill="none"/>
<path d="M611.8 62.8L611.8 107.3Q611.8 109.3 613.8 109.3L618.2 109.3Q620.2 109.3 620.2 107.3L620.2 62.8" fill="#fff" stroke="#141414" stroke-width="1.35"/>
<path d="M611.5 63.3L620.5 63.3" stroke="#141414" stroke-width="2.4" stroke-linecap="butt" fill="none"/>
<path d="M632.5 55.5L632.5 99Q632.5 101 634.5 101L638 101Q640 101 640 99L640 55.5" fill="#fff" stroke="#141414" stroke-width="1.2"/>
<path d="M632.2 56L640.3 56" stroke="#141414" stroke-width="2.2" stroke-linecap="butt" fill="none"/>
<path d="M93 91.5L493 115.5" stroke="#141414" stroke-width="3.0" stroke-linecap="butt" fill="none"/>
<path d="M93 94.7L493 118.7" stroke="#666" stroke-width="0.7" stroke-linecap="butt" fill="none"/>
<path d="M93 108L493 132" stroke="#141414" stroke-width="3.4" stroke-linecap="butt" fill="none"/>
<path d="M93 111.2L493 135.2" stroke="#666" stroke-width="0.7" stroke-linecap="butt" fill="none"/>
<path d="M93 125.5L493 149.5" stroke="#141414" stroke-width="3.4" stroke-linecap="butt" fill="none"/>
<path d="M93 128.7L493 152.7" stroke="#666" stroke-width="0.7" stroke-linecap="butt" fill="none"/>
<path d="M113.8 90L113.8 133.5Q113.8 135.5 115.8 135.5L120.2 135.5Q122.2 135.5 122.2 133.5L122.2 90" fill="#fff" stroke="#141414" stroke-width="1.35"/>
<path d="M113.5 90L122.5 90" stroke="#141414" stroke-width="1.35" stroke-linecap="butt" fill="none"/>
<path d="M160.8 92.8L160.8 136.3Q160.8 138.3 162.8 138.3L167.2 138.3Q169.2 138.3 169.2 136.3L169.2 92.8" fill="#fff" stroke="#141414" stroke-width="1.35"/>
<path d="M160.4 92.8L169.6 92.8" stroke="#141414" stroke-width="1.35" stroke-linecap="butt" fill="none"/>
<path d="M207.8 95.6L207.8 139.1Q207.8 141.1 209.8 141.1L214.2 141.1Q216.2 141.1 216.2 139.1L216.2 95.6" fill="#fff" stroke="#141414" stroke-width="1.35"/>
<path d="M207.4 95.6L216.6 95.6" stroke="#141414" stroke-width="1.35" stroke-linecap="butt" fill="none"/>
<path d="M254.8 98.5L254.8 142Q254.8 144 256.8 144L261.2 144Q263.2 144 263.2 142L263.2 98.5" fill="#fff" stroke="#141414" stroke-width="1.35"/>
<path d="M254.4 98.5L263.6 98.5" stroke="#141414" stroke-width="1.35" stroke-linecap="butt" fill="none"/>
<path d="M300.8 101.2L300.8 144.7Q300.8 146.7 302.8 146.7L307.2 146.7Q309.2 146.7 309.2 144.7L309.2 101.2" fill="#fff" stroke="#141414" stroke-width="1.35"/>
<path d="M300.4 101.2L309.6 101.2" stroke="#141414" stroke-width="1.35" stroke-linecap="butt" fill="none"/>
<path d="M348.2 104.1L348.2 147.6Q348.2 149.6 350.2 149.6L354.8 149.6Q356.8 149.6 356.8 147.6L356.8 104.1" fill="#fff" stroke="#141414" stroke-width="1.35"/>
<path d="M347.9 104.1L357.1 104.1" stroke="#141414" stroke-width="1.35" stroke-linecap="butt" fill="none"/>
<path d="M395.2 106.9L395.2 150.4Q395.2 152.4 397.2 152.4L401.8 152.4Q403.8 152.4 403.8 150.4L403.8 106.9" fill="#fff" stroke="#141414" stroke-width="1.35"/>
<path d="M394.9 106.9L404.1 106.9" stroke="#141414" stroke-width="1.35" stroke-linecap="butt" fill="none"/>
<path d="M442.2 109.7L442.2 153.2Q442.2 155.2 444.2 155.2L448.8 155.2Q450.8 155.2 450.8 153.2L450.8 109.7" fill="#fff" stroke="#141414" stroke-width="1.35"/>
<path d="M441.9 109.7L451.1 109.7" stroke="#141414" stroke-width="1.35" stroke-linecap="butt" fill="none"/>
<path d="M88.5 89L88.5 132Q88.5 134 90.5 134L95 134Q97 134 97 132L97 89" fill="#fff" stroke="#141414" stroke-width="1.2"/>
<path d="M88.5 89L97 89" stroke="#141414" stroke-width="1.4" stroke-linecap="butt" fill="none"/>
<path d="M488.5 112L488.5 156Q488.5 158 490.5 158L496 158Q498 158 498 156L498 112" fill="#fff" stroke="#141414" stroke-width="1.2"/>
<path d="M488.5 112L498 112" stroke="#141414" stroke-width="1.4" stroke-linecap="butt" fill="none"/>
<rect x="275" y="130" width="78.5" height="92" fill="none" stroke="#1d3591" stroke-width="1.4"/>
<rect x="290" y="136.5" width="61" height="47" fill="none" stroke="#1d3591" stroke-width="1.4"/>
<path d="M300.5 136.5L300.5 183.5" stroke="#1d3591" stroke-width="1.3" stroke-linecap="butt" fill="none"/>
<path d="M313.7 136.5L313.7 183.5" stroke="#1d3591" stroke-width="1.3" stroke-linecap="butt" fill="none"/>
<path d="M328.6 136.5L328.6 183.5" stroke="#1d3591" stroke-width="1.3" stroke-linecap="butt" fill="none"/>
<path d="M338.6 136.5L338.6 183.5" stroke="#1d3591" stroke-width="1.3" stroke-linecap="butt" fill="none"/>
<path d="M329 222L329 380.5L284.5 380.5L283.5 384L254.5 598L248.5 655" fill="none" stroke="#e8141c" stroke-width="1.4"/>
<path d="M235 583L248 585L245 609L231.5 606.5Z" fill="#1d3591" stroke="#b8325a" stroke-width="0.8" stroke-linejoin="round"/>
<path d="M247 597.5L255 597.5" stroke="#e8141c" stroke-width="1.3" stroke-linecap="butt" fill="none"/>
<path d="M230 624L244.5 625.5L236.5 681L222 679.5Z" fill="#e8141c" stroke="#e8141c" stroke-width="0.6" stroke-linejoin="round"/>
<path d="M242 656L248.5 656" stroke="#5a1a1a" stroke-width="1.1" stroke-linecap="butt" fill="none"/>
<g style="filter:opacity(1)">
<text x="275" y="104" font-size="29" font-weight="500" fill="#1d3591" textLength="95.5" lengthAdjust="spacingAndGlyphs">恒电位仪</text>
<text x="120.5" y="595.5" font-size="27.5" font-weight="600" fill="#1d3591" textLength="99" lengthAdjust="spacingAndGlyphs">参比电极</text>
<text x="116.5" y="675" font-size="27.5" font-weight="600" fill="#1d3591" textLength="98" lengthAdjust="spacingAndGlyphs">辅助阳极</text>
</g>
<g opacity="0.9" style="mix-blend-mode:multiply"><text x="75" y="418" font-size="35" font-weight="500" fill="#808076" letter-spacing="9.35">江苏海立普电力科技有限公司</text></g>
</svg></body></html>
